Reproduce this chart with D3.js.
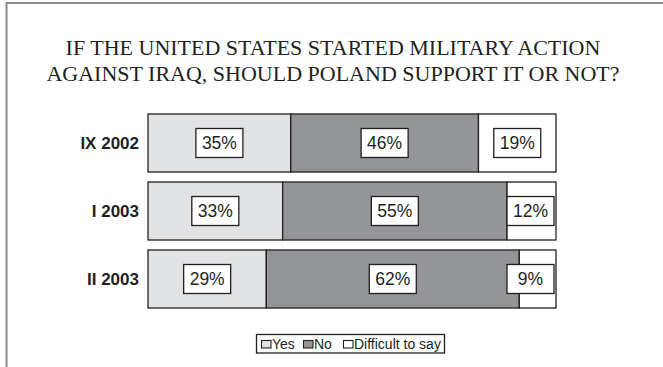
<!DOCTYPE html>
<html>
<head>
<meta charset="utf-8">
<script src="https://cdn.jsdelivr.net/npm/d3@7"></script>
<style>
  html, body { margin: 0; padding: 0; background: #fff; }
  svg { display: block; }
</style>
</head>
<body>
<svg id="chart" width="663" height="367"></svg>
<script>
// Survey waves and answer shares (%)
const categories = ["IX 2002", "I 2003", "II 2003"];
const yesValues = [35, 33, 29];
const noValues = [46, 55, 62];
const difficultValues = [19, 12, 9];
const seriesNames = ["Yes", "No", "Difficult to say"];
const titleLines = [
  "IF THE UNITED STATES STARTED MILITARY ACTION",
  "AGAINST IRAQ, SHOULD POLAND SUPPORT IT OR NOT?"
];

const colors = ["#e1e2e3", "#939598", "#ffffff"];
const ink = "#231f20";

const svg = d3.select("#chart");
const W = 663, H = 367;

// outer frame (top and left edges visible)
svg.append("path")
  .attr("d", `M6.5,${H} V3 H${W}`)
  .attr("fill", "none")
  .attr("stroke", "#8c8c8c")
  .attr("stroke-width", 2);

// title
svg.append("g").selectAll("text")
  .data(titleLines)
  .join("text")
  .attr("x", 333)
  .attr("y", (d, i) => 54.5 + i * 26)
  .attr("text-anchor", "middle")
  .attr("font-family", "'Liberation Serif', 'Times New Roman', serif")
  .attr("font-size", 22)
  .attr("fill", ink)
  .text(d => d);

const x = d3.scaleLinear().domain([0, 100]).range([148, 556]);
const y = d3.scaleBand().domain(categories).range([114, 308]).paddingInner(0.147).paddingOuter(0);

const table = categories.map((c, i) => ({
  cat: c,
  [seriesNames[0]]: yesValues[i],
  [seriesNames[1]]: noValues[i],
  [seriesNames[2]]: difficultValues[i]
}));
const stacked = d3.stack().keys(seriesNames)(table);

const segs = [];
stacked.forEach((layer, j) => {
  layer.forEach(d => {
    segs.push({ cat: d.data.cat, x0: d[0], x1: d[1], v: d[1] - d[0], s: j });
  });
});

// bar segments
svg.append("g").selectAll("rect")
  .data(segs)
  .join("rect")
  .attr("x", d => x(d.x0))
  .attr("y", d => y(d.cat))
  .attr("width", d => x(d.x1) - x(d.x0))
  .attr("height", y.bandwidth())
  .attr("fill", d => colors[d.s])
  .attr("stroke", ink)
  .attr("stroke-width", 1.3);

// category labels
svg.append("g").selectAll("text")
  .data(categories)
  .join("text")
  .attr("x", 139)
  .attr("y", d => y(d) + y.bandwidth() / 2)
  .attr("dy", "0.35em")
  .attr("text-anchor", "end")
  .attr("font-family", "'Liberation Sans', Arial, sans-serif")
  .attr("font-weight", "bold")
  .attr("font-size", 17)
  .attr("fill", ink)
  .text(d => d);

// value labels in boxes
const boxW = 47, boxH = 29;
const labels = svg.append("g").selectAll("g")
  .data(segs)
  .join("g")
  .attr("transform", d => {
    let cx = (x(d.x0) + x(d.x1)) / 2;
    cx = Math.min(cx, x(100) - 2 - boxW / 2);
    const cy = y(d.cat) + y.bandwidth() / 2;
    return `translate(${cx},${cy})`;
  });
labels.append("rect")
  .attr("x", -boxW / 2).attr("y", -boxH / 2)
  .attr("width", boxW).attr("height", boxH)
  .attr("fill", "#fff")
  .attr("stroke", ink)
  .attr("stroke-width", 1.3);
labels.append("text")
  .attr("text-anchor", "middle")
  .attr("dy", "0.36em")
  .attr("font-family", "'Liberation Sans', Arial, sans-serif")
  .attr("font-size", 17.5)
  .attr("fill", ink)
  .text(d => d.v + "%");

// legend
const legend = svg.append("g");
legend.append("rect")
  .attr("x", 256.5).attr("y", 334.5)
  .attr("width", 188).attr("height", 18.5)
  .attr("fill", "#fff")
  .attr("stroke", ink)
  .attr("stroke-width", 1.3);
const legendX = [261.5, 303.5, 343.5];
const items = legend.selectAll("g.item")
  .data(seriesNames)
  .join("g")
  .attr("class", "item")
  .attr("transform", (d, i) => `translate(${legendX[i]},0)`);
items.append("rect")
  .attr("x", 0).attr("y", 340.5)
  .attr("width", 9.5).attr("height", 7.5)
  .attr("fill", (d, i) => colors[i])
  .attr("stroke", ink)
  .attr("stroke-width", 1.1);
items.append("text")
  .attr("x", 10.5).attr("y", 349)
  .attr("font-family", "'Liberation Sans', Arial, sans-serif")
  .attr("font-size", 14)
  .attr("fill", ink)
  .text(d => d);
</script>
</body>
</html>
